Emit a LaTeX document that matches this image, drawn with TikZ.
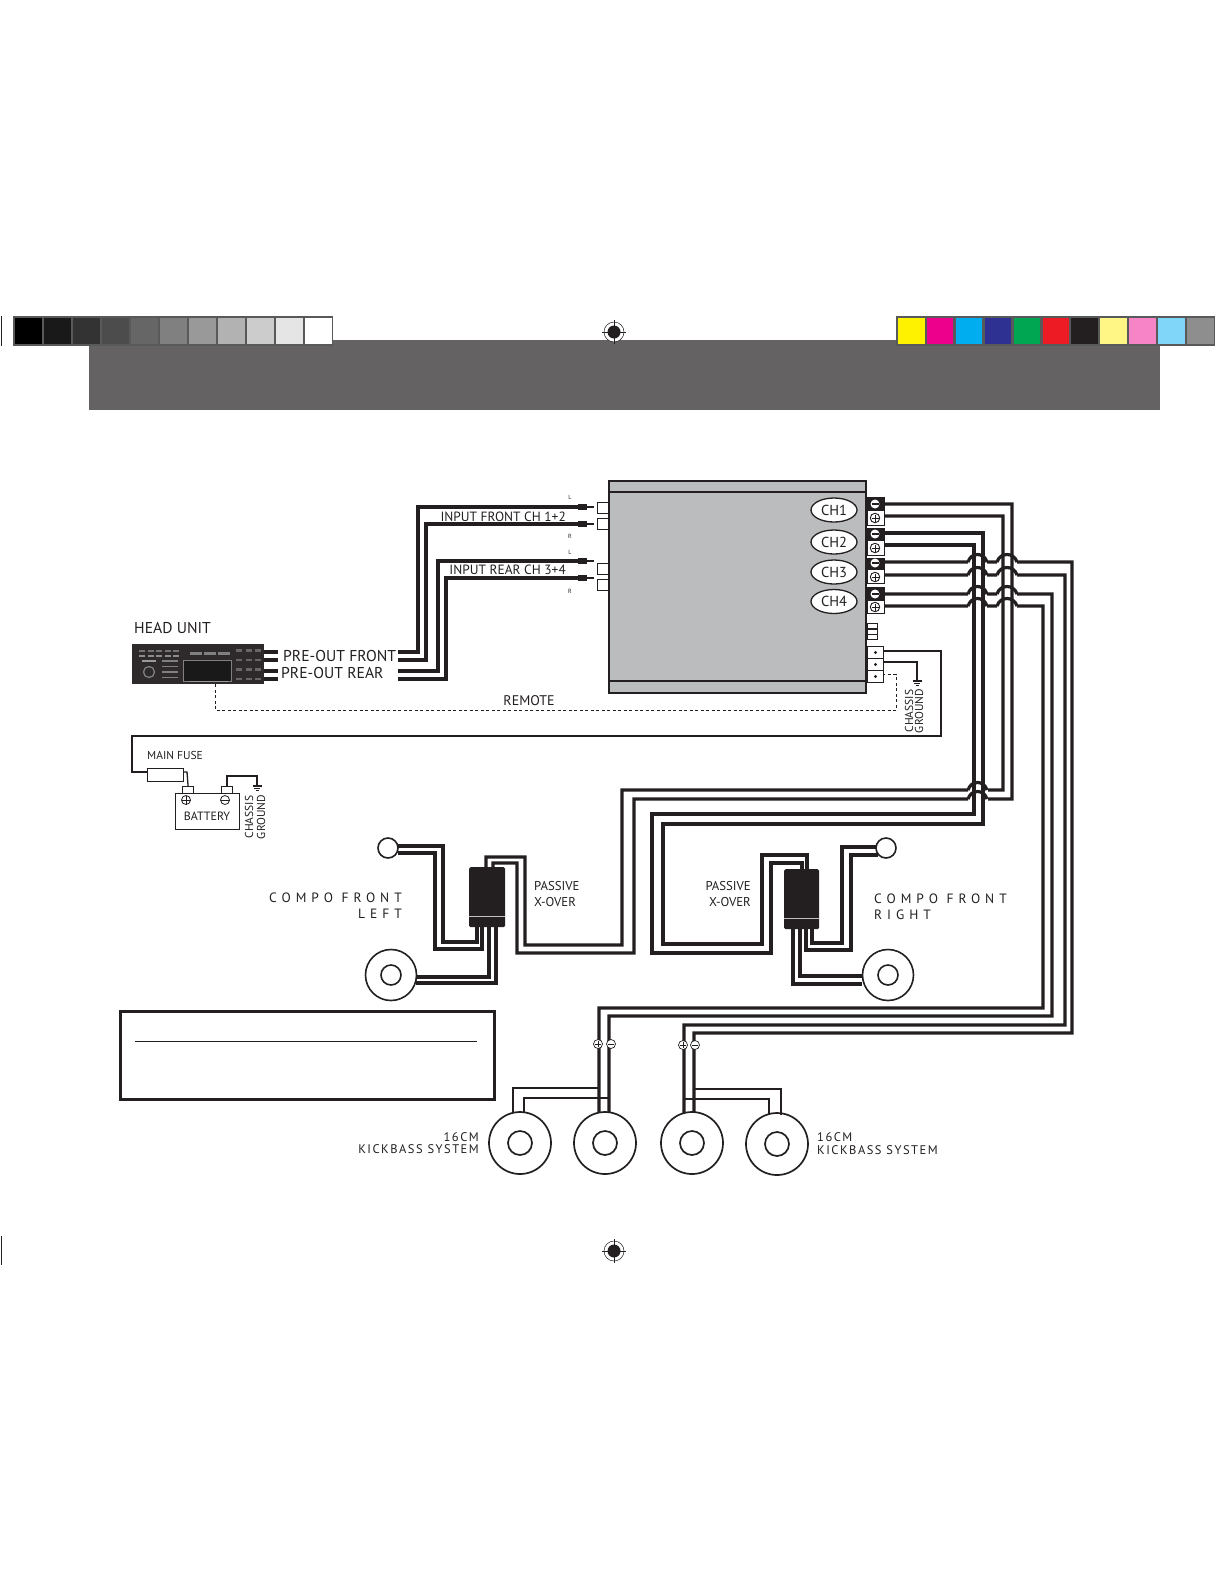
\documentclass[tikz,border=0pt]{standalone}
\usepackage{fontspec}
\usetikzlibrary{shapes.geometric}
\setmainfont{PT Sans}
\newfontfamily\spacedfont[LetterSpace=37]{PT Sans}
\newfontfamily\kickfont[LetterSpace=12]{PT Sans}
\definecolor{ink}{HTML}{231F20}
\definecolor{bandgrey}{HTML}{656263}
\definecolor{ampgrey}{HTML}{BBBCBE}
\definecolor{barframe}{HTML}{58595B}
\tikzset{
  wire/.style={line width=3.2pt,draw=ink,line join=miter},
  thinwire/.style={line width=1.3pt,draw=ink},
  remotewire/.style={line width=1pt,draw=ink,dash pattern=on 3pt off 2.5pt},
  outline/.style={line width=1.2pt,draw=ink,fill=white},
  txtbig/.style={font=\fontsize{15.7}{15.7}\selectfont,text=ink,inner sep=0pt},
  txtmid/.style={font=\fontsize{13.4}{13.4}\selectfont,text=ink,inner sep=0pt},
  txtsmall/.style={font=\fontsize{11.5}{11.5}\selectfont,text=ink,inner sep=0pt},
  txtpass/.style={font=\fontsize{12.8}{12.8}\selectfont,text=ink,inner sep=0pt},
  txttiny/.style={font=\fontsize{6}{6}\selectfont,text=ink,inner sep=0pt},
  txtspaced/.style={font=\spacedfont\fontsize{13.5}{13.5}\selectfont,text=ink,inner sep=0pt},
  txtkick/.style={font=\kickfont\fontsize{12.5}{12.5}\selectfont,text=ink,inner sep=0pt},
}
% target mark and ground symbol
\newcommand{\TargetMark}[2]{
  \draw[line width=0.5pt,draw=ink,fill=white] (#1,#2) circle (10);
  \fill[ink] (#1,#2) circle (6.5);
  \draw[line width=1pt,ink] (#1-12,#2)--(#1+12,#2);
  \draw[line width=0.8pt,ink] (#1,#2-12)--(#1,#2+12);
}
\newcommand{\GroundMark}[2]{
  \draw[line width=1.2pt,ink] (#1-4.5,#2)--(#1+4.5,#2);
  \draw[line width=1pt,ink] (#1-3,#2+2)--(#1+3,#2+2);
  \draw[line width=1pt,ink] (#1-1.5,#2+4)--(#1+1.5,#2+4);
}
% wire jumping the pair of verticals
\newcommand{\HopA}[1]{(968,#1) .. controls (971,#1-10) and (984,#1-10) .. (987,#1)}
\newcommand{\HopB}[1]{(997,#1) .. controls (1000,#1-10) and (1014,#1-10) .. (1017,#1)}
\begin{document}
\begin{tikzpicture}[x=1pt,y=-1pt]

  \useasboundingbox (0,0) rectangle (1225,1585);

  \begin{scope}   % print marks and header band
    \fill[bandgrey] (89,340) rectangle (1160,410);

    \fill[barframe] (13,316) rectangle (333,346);
    \foreach \i/\g in {0/100,1/90,2/80,3/70,4/60,5/50,6/40,7/30,8/20,9/10,10/0}
    {
      \fill[black!\g] (15+29*\i,318) rectangle (42+29*\i,344);
    }
    \fill[barframe] (896,316) rectangle (1215,346);
    \foreach \i/\c in {0/FFF200,1/EC008C,2/00AEEF,3/2E3192,4/00A651,5/ED1C24,6/231F20,7/FFF685,8/F784C6,9/7FD6F9,10/8F8E8E}
    {
      \definecolor{swatch}{HTML}{\c}
      \fill[swatch] (898+28.9*\i,318) rectangle (924.5+28.9*\i,344);
    }
    \draw[line width=1pt,ink] (1,316)--(1,346);
    \draw[line width=1pt,ink] (1,1236)--(1,1265);
    \TargetMark{614}{332}
    \TargetMark{614}{1251}
  \end{scope}

  \begin{scope}   % amplifier
    \draw[line width=2pt,draw=ink,fill=ampgrey] (609,481) rectangle (866,693);
    \draw[line width=1.2pt,ink] (609,492)--(866,492);
    \draw[line width=1.6pt,ink] (609,681)--(866,681);

    \foreach \y/\n in {502/A,518/B,563/C,579/D}
    {
      \node[draw=ink,line width=1.1pt,fill=white,minimum width=11pt,minimum height=11pt,inner sep=0pt,anchor=north east] (in\n) at (609,\y) {};
    }

    \foreach \y/\n/\t in {510/1/CH1,542/2/CH2,572/3/CH3,601.5/4/CH4}
    {
      \node[ellipse,draw=ink,line width=1.3pt,fill=white,minimum width=46pt,minimum height=24pt,inner sep=0pt,
        font=\fontsize{14.5}{14.5}\selectfont,text=ink] (ch\n) at (834,\y) {\t};
    }

    % speaker terminals
    \foreach \yt/\yb/\ym/\yp/\n in {497/525/504/518/1,528/555/534/548/2,558/583/563/577/3,587/613/594/607/4}
    {
      \draw[line width=1pt,draw=ink,fill=white] (867,\yt) rectangle (884,\yb);
      \fill[ink] (867,\yt) rectangle (884,{(\ym+\yp)/2});
      \node[circle,fill=white,minimum size=9pt,inner sep=0pt] (minus\n) at (875,\ym) {};
      \draw[line width=1.2pt,ink] (871.5,\ym)--(878.5,\ym);
      \node[circle,draw=ink,line width=0.9pt,fill=white,minimum size=9.5pt,inner sep=0pt] (plus\n) at (875,\yp) {};
      \draw[line width=0.9pt,ink] (871.5,\yp)--(878.5,\yp);
      \draw[line width=0.9pt,ink] (875,\yp-3.5)--(875,\yp+3.5);
    }

    % small sockets and power terminal
    \foreach \y in {623,629,634}
    {
      \draw[line width=0.9pt,draw=ink,fill=white] (867,\y) rectangle (877.5,\y+5.5);
    }
    \foreach \y/\n in {646/P,658/G,670/R}
    {
      \node[draw=ink,line width=1pt,fill=white,minimum width=16pt,minimum height=12pt,inner sep=0pt,anchor=north west] (term\n) at (867,\y) {};
      \fill[ink] (term\n) circle (1.6);
    }
  \end{scope}

  \begin{scope}   % head unit
    \fill[ink!95!white] (132,644) rectangle (264,684);
    \node[draw=none,minimum width=132pt,minimum height=40pt,inner sep=0pt,anchor=north west] (head) at (132,644) {};
    \draw[line width=0.6pt,draw=black!50,fill=black!90] (183,660) rectangle (231,681);
    \draw[line width=0.6pt,black!40] (190,681)--(228,681);
    \foreach \x in {0,1,2,3,4}
    {
      \fill[black!55] (139+8.5*\x,650) rectangle (145+8.5*\x,652);
      \fill[black!45] (139+8.5*\x,655) rectangle (145+8.5*\x,657);
    }
    \foreach \x in {0,1,2}
    {
      \fill[black!50] (190+14*\x,652) rectangle (202+14*\x,655);
      \foreach \y in {0,1,2,3}
      {
        \fill[black!60] (236+9.5*\x,649+9.5*\y) rectangle (242+9.5*\x,651.5+9.5*\y);
      }
    }
    \foreach \y in {0,1,2,3}
    {
      \fill[black!50] (162,660+5.5*\y) rectangle (178,661.5+5.5*\y);
    }
    \draw[line width=1.3pt,black!50] (149,672) circle (5.5);
    \fill[black!40] (142,660) rectangle (156,661.5);
  \end{scope}

  \begin{scope}   % signal wires
    \foreach \y in {652,660,671,679}
    {
      \draw[wire] (264,\y)--(278,\y);
    }
    \coordinate (preA) at (398,652);
    \coordinate (preB) at (398,660);
    \coordinate (preC) at (398,671);
    \coordinate (preD) at (398,679);
    \foreach \s/\x/\y/\n in {preA/418/507/A,preB/426/524/B,preC/438/561/C,preD/446/578/D}
    {
      \draw[wire] (\s)-|(\x,\y)--(578,\y);
      \draw[line width=6pt,ink] (578,\y)--(587,\y);
      \draw[line width=2.8pt,ink] (587,\y)--(594,\y);
    }
  \end{scope}

  \begin{scope}   % power, ground and remote
    \coordinate (termPe) at (883,651);
    \coordinate (termGe) at (883,662);
    \coordinate (termRe) at (883,675);
    \coordinate (gndAmp) at (917,681);
    \node[outline,minimum width=36pt,minimum height=13pt,inner sep=0pt,anchor=north west] (fuse) at (147,768) {};
    \node[outline,minimum width=11pt,minimum height=7pt,inner sep=0pt,anchor=north west] (posBat) at (182,786) {};
    \node[outline,minimum width=11pt,minimum height=7pt,inner sep=0pt,anchor=north west] (negBat) at (221,786) {};
    \node[outline,minimum width=64pt,minimum height=36pt,inner sep=0pt,anchor=north west,
      font=\fontsize{12}{12}\selectfont,text=ink] (battery) at (175,793) {};

    \draw[thinwire] (termPe)--(941,651)--(941,736)--(132,736)--(132,772)--(fuse.west |- 0,772);
    \draw[thinwire] (fuse.east |- 0,772)--(187,772)--(posBat.north);
    \draw[wire,line width=1.6pt] (termGe)-|(gndAmp);
    \GroundMark{917}{681}
    \draw[wire,line width=2.4pt] (negBat.north -| 227,0)--(227,776)--(257,776)--(257,786);
    \GroundMark{257}{786}
    \draw[remotewire] (215,684)--(215,710)--(896,710)--(896,674.5)--(termRe |- 0,674.5);

    \node[circle,draw=ink,line width=0.8pt,minimum size=9pt,inner sep=0pt] (posMark) at (186,800) {};
    \draw[line width=0.8pt,ink] (181.5,800)--(190.5,800) (186,795.5)--(186,804.5);
    \node[circle,draw=ink,line width=0.8pt,minimum size=9pt,inner sep=0pt] (negMark) at (225,800) {};
    \draw[line width=0.8pt,ink] (220.5,800)--(229.5,800);
  \end{scope}

  \begin{scope}   % amplifier speaker outputs
    \coordinate (outA) at (884,504);
    \coordinate (outB) at (884,516);
    \coordinate (outC) at (884,533);
    \coordinate (outD) at (884,545);
    \coordinate (outE) at (884,562);
    \coordinate (outF) at (884,575);
    \coordinate (outG) at (884,594);
    \coordinate (outH) at (884,606);

    % left channel: front wires to the x-over
    \draw[wire] (outA)--(1012,504)--(1012,799)--(988,799) \HopA{799}
       (968,799)--(634,799)--(634,953)--(517,953)--(517,863)--(493,863)--(493,867);
    \draw[wire] (outB)--(1003,516)--(1003,790)--(988,790) \HopA{790}
       (968,790)--(622,790)--(622,945)--(525,945)--(525,857)--(486,857)--(486,867);
    \draw[wire] (outC)--(983,533)--(983,824)--(663,824)--(663,944)--(762,944)--(762,855)--(807,855)--(807,869);
    \draw[wire] (outD)--(974,545)--(974,814)--(652,814)--(652,953)--(771,953)--(771,863)--(802,863)--(802,869);

    % rear channels jump the front ones
    \foreach \s/\y/\xr/\yb/\xe in {outE/562/1072/1033/694,outF/575/1065/1025/684,outG/594/1052/1016/609,outH/606/1043/1008/599}
    {
      \draw[wire] (\s)--(968,\y) \HopA{\y} (987,\y)--(997,\y) \HopB{\y}
         (1017,\y)--(\xr,\y)--(\xr,\yb)--(\xe,\yb)--(\xe,1113);
    }
  \end{scope}

  \begin{scope}   % front left compo
    \node[rounded corners=1.5pt,fill=ink,minimum width=36pt,minimum height=60pt,inner sep=0pt,anchor=north west] (xoverL) at (469,867) {};
    \draw[line width=0.9pt,black!25] (469,916)--(505,916);
    \node[circle,draw=ink,line width=1.6pt,fill=white,minimum size=20pt,inner sep=0pt] (twL) at (388,848) {};
    \node[circle,draw=ink,line width=1.6pt,fill=white,minimum size=51pt,inner sep=0pt] (wfL) at (391,975) {};
    \node[circle,draw=ink,line width=1.6pt,minimum size=20pt,inner sep=0pt] (wfLin) at (391,975) {};
    \draw[wire] (477,927)--(477,942)--(443,942)--(443,846)--(398,846);
    \draw[wire] (482,927)--(482,949)--(435,949)--(435,853)--(398,853);
    \draw[wire] (489,927)--(489,977)--(416,977);
    \draw[wire] (496,927)--(496,983)--(416,983);
  \end{scope}

  \begin{scope}   % front right compo
    \node[rounded corners=1.5pt,fill=ink,minimum width=35pt,minimum height=60pt,inner sep=0pt,anchor=north west] (xoverR) at (784,869) {};
    \draw[line width=0.9pt,black!25] (784,918)--(819,918);
    \node[circle,draw=ink,line width=1.6pt,fill=white,minimum size=20pt,inner sep=0pt] (twR) at (886,848) {};
    \node[circle,draw=ink,line width=1.6pt,fill=white,minimum size=51pt,inner sep=0pt] (wfR) at (888,975) {};
    \node[circle,draw=ink,line width=1.6pt,minimum size=20pt,inner sep=0pt] (wfRin) at (888,975) {};
    \draw[wire] (812,929)--(812,943)--(842,943)--(842,847)--(876,847);
    \draw[wire] (806,929)--(806,950)--(851,950)--(851,855)--(878,855);
    \draw[wire] (800,929)--(800,976)--(862,976);
    \draw[wire] (793,929)--(793,984)--(862,984);
  \end{scope}

  \begin{scope}   % kickbass speakers
    \foreach \x/\y/\n in {520/1143/A,605/1143/B,692/1143/C,777/1144/D}
    {
      \node[circle,draw=ink,line width=1.7pt,fill=white,minimum size=62pt,inner sep=0pt] (kick\n) at (\x,\y) {};
      \node[circle,draw=ink,line width=1.7pt,minimum size=24pt,inner sep=0pt] (kick\n in) at (\x,\y) {};
    }
    \draw[wire,line width=2.6pt] (513,1113)--(513,1088)--(599,1088);
    \draw[wire,line width=2.6pt] (524,1113)--(524,1098)--(609,1098);
    \draw[wire,line width=2.6pt] (694,1089)--(781,1089)--(781,1115);
    \draw[wire,line width=2.6pt] (684,1099)--(769,1099)--(769,1115);
    \foreach \x/\y/\n in {598/1044/A,683/1045/B}
    {
      \node[circle,draw=ink,line width=0.7pt,fill=white,minimum size=9pt,inner sep=0pt] (pol\n) at (\x,\y) {};
      \draw[line width=0.8pt,ink] (\x-3,\y)--(\x+3,\y) (\x,\y-3)--(\x,\y+3);
    }
    \foreach \x/\y/\n in {611/1044/C,695/1045/D}
    {
      \node[circle,draw=ink,line width=0.7pt,fill=white,minimum size=9pt,inner sep=0pt] (pol\n) at (\x,\y) {};
      \draw[line width=0.8pt,ink] (\x-3,\y)--(\x+3,\y);
    }
  \end{scope}

  % note box
  \draw[line width=3pt,ink] (120,1011) rectangle (494,1099);
  \draw[line width=1pt,ink] (135,1041)--(477,1041);

  % labels
  \node[txtbig,anchor=west] (labHead) at (134,628) {HEAD UNIT};
  \node[txtbig,anchor=west] (labPreF) at (283,656) {PRE-OUT FRONT};
  \node[txtbig,anchor=west] (labPreR) at (281,673) {PRE-OUT REAR};
  \node[txtmid,anchor=east] (labInF) at (566,517) {INPUT FRONT CH 1+2};
  \node[txtmid,anchor=east] (labInR) at (566,570) {INPUT REAR CH 3+4};
  \node[txtmid,font=\fontsize{14}{14}\selectfont] (labRem) at (529,701) {REMOTE};
  \node[txttiny] (labLa) at (570,497) {L};
  \node[txttiny] (labRa) at (570,536) {R};
  \node[txttiny] (labLb) at (570,552) {L};
  \node[txttiny] (labRb) at (570,591) {R};
  \node[txtsmall,rotate=90] (labCa) at (909,711) {CHASSIS};
  \node[txtsmall,rotate=90] (labGa) at (919,711) {GROUND};
  \node[txtsmall,rotate=90] (labCb) at (249,817) {CHASSIS};
  \node[txtsmall,rotate=90] (labGb) at (261,817) {GROUND};
  \node[txtsmall,anchor=west] (labFuse) at (147,755) {MAIN FUSE};
  \node[txtsmall,font=\fontsize{12}{12}\selectfont] (labBat) at (207,816) {BATTERY};
  \node[txtspaced,anchor=east] (labCL) at (402,898) {COMPO FRONT};
  \node[txtspaced,anchor=east] (labLL) at (402,914) {LEFT};
  \node[txtspaced,anchor=west] (labCR) at (874,899) {COMPO FRONT};
  \node[txtspaced,anchor=west] (labRR) at (874,915) {RIGHT};
  \node[txtpass,anchor=west] (labPL) at (534,886) {PASSIVE};
  \node[txtpass,anchor=west] (labXL) at (534,902) {X-OVER};
  \node[txtpass,anchor=east] (labPR) at (751,886) {PASSIVE};
  \node[txtpass,anchor=east] (labXR) at (751,902) {X-OVER};
  \node[txtkick,anchor=east] (labSa) at (479,1137) {16CM};
  \node[txtkick,anchor=east] (labKa) at (479,1149) {KICKBASS SYSTEM};
  \node[txtkick,anchor=west] (labSb) at (817,1137) {16CM};
  \node[txtkick,anchor=west] (labKb) at (817,1150) {KICKBASS SYSTEM};

\end{tikzpicture}
\end{document}
